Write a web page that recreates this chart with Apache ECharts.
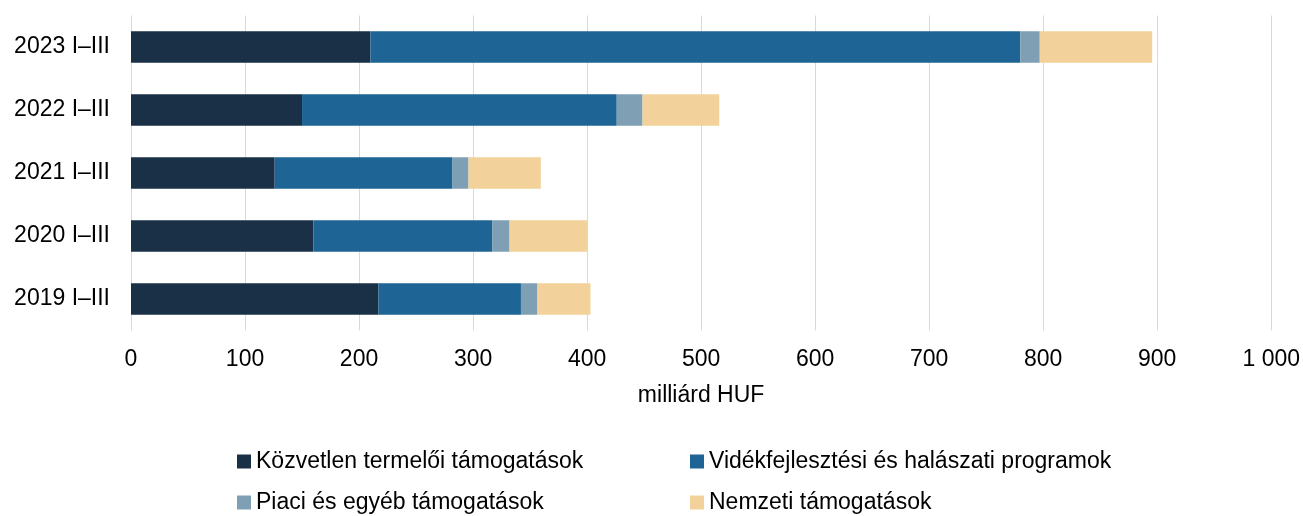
<!DOCTYPE html>
<html>
<head>
<meta charset="utf-8">
<script src="https://cdn.jsdelivr.net/npm/echarts@6/dist/echarts.min.js"></script>
<style>html,body{margin:0;padding:0;background:#fff;}#c{width:1303px;height:516px;}</style>
</head>
<body>
<div id="c"></div>
<script>
const categories = ['2019 I–III', '2020 I–III', '2021 I–III', '2022 I–III', '2023 I–III'];
const seriesNames = ['Közvetlen termelői támogatások', 'Vidékfejlesztési és halászati programok', 'Piaci és egyéb támogatások', 'Nemzeti támogatások'];
const kozvetlen = [217, 160, 126, 150, 210];
const videk = [125, 157, 156, 276, 570];
const piaci = [14.5, 15, 14, 22.6, 17];
const nemzeti = [46.5, 68, 63.4, 67.3, 98.6];
const xTicks = [0, 100, 200, 300, 400, 500, 600, 700, 800, 900, 1000];
const colors = ['#1a3046', '#1e6595', '#7fa0b4', '#f2d29a'];
const values = [kozvetlen, videk, piaci, nemzeti];

const font = 'Liberation Sans, Arial, sans-serif';
const fs = 23;
const chart = echarts.init(document.getElementById('c'));
const legendPos = [[237, 450], [690, 450], [237, 491], [690, 491]];
chart.setOption({
  animation: false,
  grid: { left: 131, right: 31, top: 15.5, bottom: 185.5, containLabel: false },
  xAxis: {
    type: 'value', min: 0, max: 1000, interval: 100,
    name: 'milliárd HUF', nameLocation: 'middle', nameGap: 54,
    nameTextStyle: { color: '#000', fontSize: fs, fontFamily: font },
    axisLine: { show: false }, axisTick: { show: false },
    axisLabel: { color: '#000', fontSize: fs, fontFamily: font, margin: 18,
      formatter: v => xTicks.includes(v) ? String(v).replace(/\B(?=(\d{3})+(?!\d))/g, ' ') : '' },
    splitLine: { show: true, lineStyle: { color: '#d9d9d9', width: 1 } }
  },
  yAxis: {
    type: 'category', data: categories,
    axisLine: { show: false }, axisTick: { show: false },
    axisLabel: { color: '#000', fontSize: fs, fontFamily: font, margin: 21 }
  },
  legend: seriesNames.map((n, i) => ({
    data: [n], left: legendPos[i][0], top: legendPos[i][1], padding: 0,
    icon: 'rect', itemWidth: 14, itemHeight: 14,
    textStyle: { color: '#000', fontSize: fs, fontFamily: font, padding: [0, 0, 0, 0] }
  })),
  series: seriesNames.map((n, i) => ({
    name: n, type: 'bar', stack: 'total', data: values[i], barWidth: '50%',
    itemStyle: { color: colors[i] }
  }))
});
</script>
</body>
</html>
